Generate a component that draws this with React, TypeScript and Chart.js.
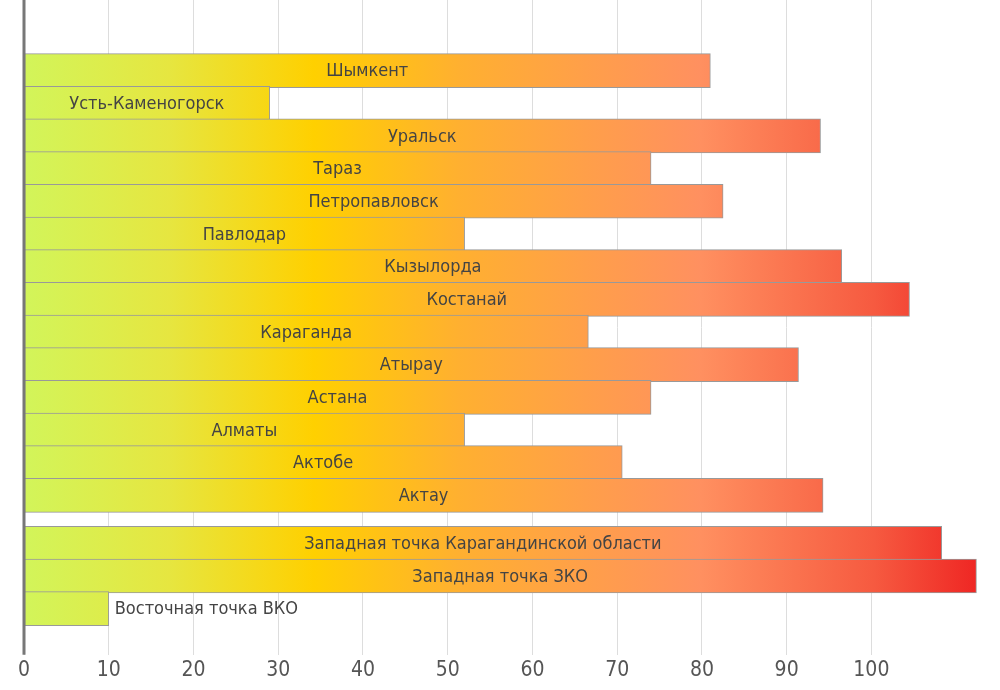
import React, { useEffect, useRef } from "react";
import { Chart, registerables } from "chart.js";
Chart.register(...registerables);

const cities = ["Шымкент","Усть-Каменогорск","Уральск","Тараз","Петропавловск","Павлодар","Кызылорда","Костанай","Караганда","Атырау","Астана","Алматы","Актобе","Актау","Западная точка Карагандинской области","Западная точка ЗКО","Восточная точка ВКО"];
const values = [81,29,94,74,82.5,52,96.5,104.5,66.6,91.4,74,52,70.6,94.3,108.3,112.4,10];
const rows = [0,1,2,3,4,5,6,7,8,9,10,11,12,13,14.47,15.47,16.47];

const labelPlugin = {
  id: "lbl",
  afterDatasetsDraw(chart: any) {
    const ctx = chart.ctx;
    const meta = chart.getDatasetMeta(0);
    const xs = chart.scales.x;
    const ca = chart.chartArea;
    ctx.save();
    ctx.strokeStyle = "#777";
    ctx.lineWidth = 3;
    ctx.beginPath();
    ctx.moveTo(ca.left, ca.top);
    ctx.lineTo(ca.left, ca.bottom);
    ctx.stroke();
    ctx.font = "18px 'DejaVu Sans Condensed', 'DejaVu Sans'";
    ctx.fillStyle = "#444";
    ctx.textBaseline = "middle";
    meta.data.forEach((bar: any, i: number) => {
      const end = bar.x;
      const w = ctx.measureText(cities[i]).width;
      if (end - xs.getPixelForValue(0) < w + 10) {
        ctx.textAlign = "left";
        ctx.fillText(cities[i], end + 6, bar.y + 1);
      } else {
        ctx.textAlign = "center";
        ctx.fillText(cities[i], (xs.getPixelForValue(0) + end) / 2, bar.y + 1);
      }
    });
    ctx.restore();
  },
};

export default function App() {
  const ref = useRef<HTMLCanvasElement>(null);
  useEffect(() => {
    const chart = new Chart(ref.current!, {
      type: "bar",
      data: {
        datasets: [{
          data: values.map((v, i) => ({ x: v, y: rows[i] })),
          backgroundColor: (c: any) => {
            const ch = c.chart;
            const ca = ch.chartArea;
            if (!ca) return "#fc0";
            const xs = ch.scales.x;
            const g = ch.ctx.createLinearGradient(xs.getPixelForValue(0), 0, xs.getPixelForValue(114), 0);
            g.addColorStop(0, "#d2f55a");
            g.addColorStop(0.15, "#e6e640");
            g.addColorStop(0.3, "#ffd000");
            g.addColorStop(0.45, "#ffb030");
            g.addColorStop(0.7, "#ff9060");
            g.addColorStop(0.88, "#f65a40");
            g.addColorStop(1, "#ee2020");
            return g;
          },
          borderColor: "#999",
          borderWidth: 1,
          borderSkipped: false,
          barThickness: 34,
        }],
      },
      options: {
        indexAxis: "y",
        animation: false,
        responsive: false,
        layout: { padding: { left: 24, right: 10, top: 0, bottom: 4 } },
        plugins: { legend: { display: false }, tooltip: { enabled: false } },
        scales: {
          y: { type: "linear", display: false, reverse: true, min: -1.25, max: 16.97 },
          x: {
            min: 0, max: 114,
            afterBuildTicks: (s: any) => { s.ticks = s.ticks.filter((t: any) => t.value % 10 === 0); },
            ticks: { stepSize: 10, color: "#555", font: { size: 21, family: "'DejaVu Sans Condensed', 'DejaVu Sans'" } },
            grid: { color: "#ddd", drawTicks: false },
            border: { display: false },
          },
        },
      },
      plugins: [labelPlugin],
    } as any);
    return () => chart.destroy();
  }, []);
  return (
    <div style={{ position: "fixed", left: 0, top: 0, width: 1000, height: 690, background: "#fff" }}>
      <canvas ref={ref} width={1000} height={690} />
    </div>
  );
}
